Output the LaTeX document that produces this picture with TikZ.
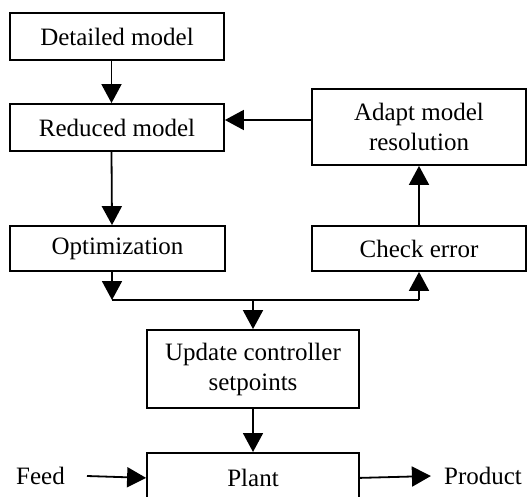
\documentclass[tikz,border=0pt]{standalone}
\usepackage{fontspec}
\setmainfont{Liberation Serif}
\usetikzlibrary{arrows.meta}
\begin{document}
\begin{tikzpicture}[x=1pt,y=-1pt,
  box/.style={draw,line width=1.8pt,inner sep=0pt,align=center,
    font=\fontsize{25}{30}\selectfont},
  lbl/.style={inner sep=0pt,font=\fontsize{25}{30}\selectfont},
  arr/.style={line width=1.8pt,-{Triangle[length=19pt,width=20pt]}},
  ln/.style={line width=1.8pt}]
\useasboundingbox (0,0) rectangle (527,497);
\clip (0,0) rectangle (527,497);
\node[box,minimum width=214pt,minimum height=47pt] (det) at (117,36.5) {Detailed model};
\node[box,minimum width=214pt,minimum height=47pt] (red) at (117,127.5) {Reduced model};
\node[box,minimum width=215pt,minimum height=45pt] (opt) at (117.5,248.5) {Optimization};
\node[box,minimum width=214pt,minimum height=76pt] (adapt) at (419,127) {Adapt model\\resolution};
\node[box,minimum width=214pt,minimum height=45pt] (chk) at (419,248.5) {Check error};
\node[box,minimum width=212pt,minimum height=78pt] (upd) at (253,369) {Update controller\\setpoints};
\node[box,minimum width=212pt,minimum height=50pt,anchor=north] (plant) at (253,452) {Plant};
\node[lbl] (feed) at (40.5,476) {Feed};
\node[lbl] (prod) at (483,476) {Product};
\coordinate (ya) at (0,120);
\coordinate (busL) at (112,300);
\coordinate (busM) at (253,300);
\coordinate (busR) at (419,300);
\draw[arr] ([xshift=-5.5pt]det.south) -- ([xshift=-5.5pt]red.north);
\draw[arr] ([xshift=-5.5pt]red.south) -- ([xshift=-5.5pt]opt.north);
\draw[arr] (adapt.west |- ya) -- (red.east |- ya);
\draw[arr] (chk.north) -- (adapt.south);
\draw[arr] ([xshift=-5.5pt]opt.south) -- (busL);
\draw[ln] (busL) -- (busR);
\draw[arr] (busR) -- (chk.south);
\draw[arr] (busM) -- (upd.north);
\draw[arr] (upd.south) -- (plant.north);
\draw[arr] ([xshift=22pt]feed.east) -- (plant.west);
\draw[arr] (plant.east) -- ([xshift=-13pt]prod.west);
\end{tikzpicture}
\end{document}
